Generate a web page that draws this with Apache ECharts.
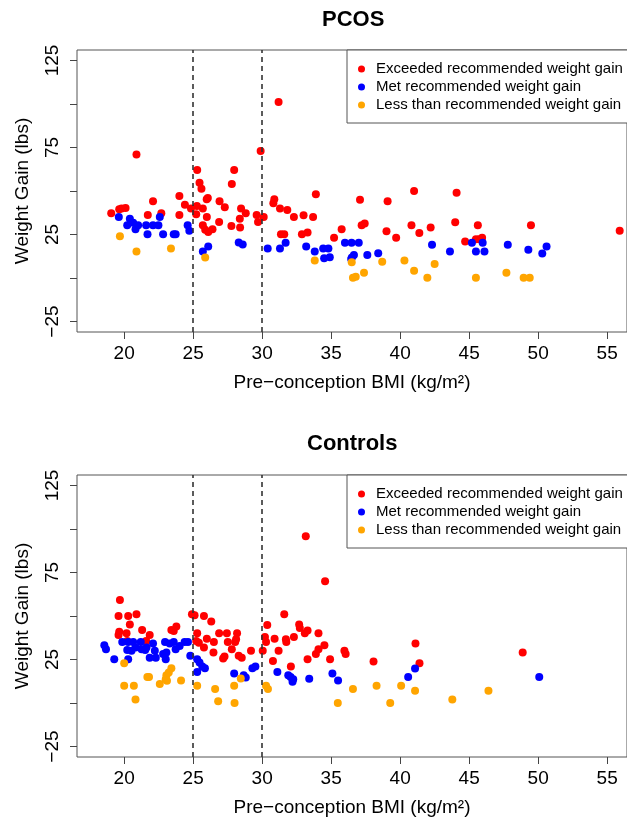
<!DOCTYPE html>
<html>
<head>
<meta charset="utf-8">
<script src="https://cdn.jsdelivr.net/npm/echarts@6/dist/echarts.min.js"></script>
<style>
  html, body { margin: 0; padding: 0; background: #fff; }
  #main_chart { width: 627px; height: 823px; }
</style>
</head>
<body>
<div id="main_chart"></div>
<script>
// 数据：[BMI, 体重增加]
var seriesNames = ['Exceeded recommended weight gain', 'Met recommended weight gain', 'Less than recommended weight gain'];
var seriesColors = ['#ff0000', '#0000ff', '#ffa500'];
var xTicks = [20, 25, 30, 35, 40, 45, 50, 55];
var yTicks = [-25, 0, 25, 50, 75, 100, 125];
var yLabels = [-25, 25, 75, 125];
var bmiCutoffs = [25, 30];

var pcosExceeded = [
    [20.89,70.9],[31.19,101.1],[29.89,73.0],[25.29,62.0],[27.97,62.0],[25.46,54.7],[25.6,51.3],[27.80,54.0],
    [33.89,48.1],[24.0,47.1],[22.09,44.1],[26.06,46.0],[25.98,45.2],[26.91,44.1],[24.40,42.1],[27.29,40.6],
    [25.27,41.4],[24.84,39.9],[25.70,39.9],[30.88,45.2],[30.81,42.9],[31.29,40.0],[31.82,39.1],[28.47,40.0],
    [28.81,37.2],[28.38,34.1],[27.77,29.9],[28.40,29.0],[19.06,37.2],[19.64,39.5],[19.81,39.9],[20.10,40.2],
    [21.71,36.2],[22.69,37.2],[24.0,36.2],[25.22,36.6],[25.99,35.1],[26.88,32.2],[25.70,30.3],[25.87,27.7],
    [26.09,26.5],[26.40,28.0],[29.60,36.2],[29.70,32.2],[30.11,35.1],[32.30,35.1],[33.0,36.0],[33.69,35.1],
    [31.36,25.2],[31.6,25.2],[32.88,25.2],[33.29,26.1],[35.21,23.1],[35.76,28.0],[37.09,45.0],[37.21,30.3],
    [37.43,31.3],[39.09,44.1],[39.01,26.9],[39.71,23.1],[41.01,50.0],[40.82,30.3],[41.39,25.9],[42.21,29.0],
    [44.09,49.0],[43.99,32.0],[44.71,21.0],[45.63,30.3],[45.49,22.3],[45.73,22.3],[45.94,23.1],[49.48,30.3],
    [55.91,27.1]
];
var pcosMet = [
    [19.61,35.1],[20.41,34.1],[20.22,30.3],[20.65,31.8],[21.01,30.3],[20.82,28.0],[21.59,30.3],[22.09,30.3],
    [22.48,30.3],[22.58,35.1],[21.69,25.2],[22.82,25.2],[23.59,25.2],[23.73,25.2],[24.60,30.3],[24.72,27.1],
    [25.70,15.3],[26.09,18.1],[28.30,20.4],[28.59,19.3],[30.40,17.0],[31.29,17.0],[31.70,20.2],[33.19,18.1],
    [33.81,15.3],[34.42,17.0],[34.80,17.0],[34.49,11.3],[34.90,12.0],[36.0,20.2],[36.48,20.2],[37.0,20.2],
    [36.5,11.8],[36.65,13.2],[36.45,10.9],[37.62,13.2],[38.41,14.3],[42.31,19.1],[43.61,15.3],[45.2,20.2],
    [45.98,20.2],[45.49,15.3],[46.11,15.3],[47.80,19.1],[49.29,16.2],[50.30,14.1],[50.61,18.1]
];
var pcosLess = [
    [19.69,24.0],[20.89,15.3],[23.39,17.0],[25.87,11.8],[33.81,10.1],[36.49,9.0],[36.58,0.2],[36.78,0.8],
    [37.38,3.1],[38.70,9.3],[40.31,10.1],[41.01,4.2],[41.97,0.2],[42.50,8.0],[45.49,0.2],[47.70,3.1],
    [48.95,0.2],[49.39,0.2]
];

var ctrlExceeded = [
    [19.69,59.2],[19.59,50.0],[19.64,40.9],[19.59,39.1],[20.29,50.0],[20.89,51.0],[20.41,45.1],[21.30,42.0],
    [20.17,40.1],[20.22,35.7],[21.85,39.1],[21.59,35.7],[23.42,42.0],[23.78,43.9],[23.59,41.4],[24.91,51.0],
    [25.10,50.4],[25.78,50.0],[26.31,46.8],[25.29,40.1],[25.99,37.0],[25.22,35.7],[25.41,34.7],[25.78,31.9],
    [26.50,35.1],[26.47,29.0],[26.88,40.1],[27.44,40.1],[28.18,40.1],[27.51,35.1],[28.04,35.1],[28.11,36.7],
    [27.80,30.9],[27.27,26.7],[27.17,25.6],[28.30,27.1],[28.52,26.0],[29.19,30.0],[30.04,30.0],[30.37,44.9],
    [30.20,38.0],[30.28,35.1],[30.90,37.0],[31.19,30.0],[30.78,24.1],[31.60,51.0],[31.72,36.7],[31.75,35.1],
    [32.30,38.0],[32.08,21.0],[32.68,45.1],[32.73,43.1],[33.09,40.1],[33.29,41.6],[33.16,95.8],[33.29,25.2],
    [34.08,40.1],[33.89,28.1],[34.08,30.9],[34.51,33.2],[34.56,69.9],[34.92,25.2],[35.96,30.0],[36.05,28.1],
    [38.07,23.9],[41.11,34.2],[41.40,22.9],[48.88,29.0]
];
var ctrlMet = [
    [18.56,33.2],[18.68,30.9],[19.28,25.2],[19.86,35.1],[20.29,35.1],[20.65,35.1],[21.20,35.1],[20.22,30.4],
    [20.53,30.0],[20.82,31.9],[21.26,30.9],[21.52,30.4],[21.62,31.9],[20.29,25.2],[22.09,34.2],[21.85,26.0],
    [22.29,26.0],[22.22,30.0],[22.82,28.1],[23.06,29.0],[23.01,25.2],[22.96,35.1],[23.30,34.2],[23.59,35.1],
    [23.73,30.9],[24.02,32.8],[24.38,35.1],[24.62,35.1],[24.79,27.1],[25.29,25.2],[25.46,23.3],[25.66,21.0],
    [25.85,20.0],[25.29,17.9],[27.97,17.0],[28.66,16.0],[28.81,14.7],[29.29,20.0],[29.51,21.0],[31.10,17.9],
    [31.89,16.0],[32.06,14.9],[32.25,13.7],[32.20,12.2],[33.41,13.9],[35.09,17.0],[35.50,13.0],[40.58,14.9],
    [41.08,19.9],[50.08,14.9]
];
var ctrlLess = [
    [20.0,22.9],[20.0,9.9],[20.70,9.9],[20.82,2.1],[21.68,14.9],[21.80,14.9],[22.58,10.9],[23.06,16.0],
    [23.01,13.7],[23.23,17.6],[23.42,20.0],[23.1,12.8],[24.12,13.0],[25.29,9.9],[26.59,8.0],[26.81,1.0],
    [27.97,9.9],[28.0,0.0],[28.45,14.1],[30.28,9.9],[30.42,8.0],[35.48,0.0],[36.58,8.0],[38.29,9.9],
    [39.28,0.0],[40.07,9.9],[41.08,7.1],[43.78,2.1],[46.40,7.1]
];

var panels = [
    { title: 'PCOS', top: 50, titleLeft: 322, titleTop: 9, data: [pcosExceeded, pcosMet, pcosLess] },
    { title: 'Controls', top: 475, titleLeft: 307, titleTop: 433, data: [ctrlExceeded, ctrlMet, ctrlLess] }
];

var font = 'Liberation Sans, Arial, Helvetica, sans-serif';
const myChart = echarts.init(document.getElementById('main_chart'));

var option = {
    animation: false,
    backgroundColor: '#fff',
    title: [],
    legend: [],
    grid: [],
    xAxis: [],
    yAxis: [],
    series: []
};

panels.forEach(function (p, i) {
    option.title.push({
        text: p.title, left: p.titleLeft, top: p.titleTop, padding: 0,
        textStyle: { fontFamily: font, fontSize: 22, fontWeight: 'bold', color: '#000' }
    });
    option.grid.push({
        left: 77, right: -2, top: p.top, height: 282,
        show: true, borderColor: '#555', borderWidth: 1, backgroundColor: 'transparent'
    });
    option.legend.push({
        data: seriesNames,
        orient: 'vertical', left: 347, top: p.top,
        padding: [10, 20, 9, 11],
        itemGap: 0, itemWidth: 7, itemHeight: 7, icon: 'circle',
        borderColor: '#555', borderWidth: 1, backgroundColor: '#fff',
        selectedMode: false,
        textStyle: { fontFamily: font, fontSize: 15, color: '#000', lineHeight: 18, padding: [0, 0, 0, 6] }
    });
    option.xAxis.push({
        type: 'value', gridIndex: i, min: 16.58, max: 56.44,
        name: 'Pre\u2212conception BMI (kg/m\u00b2)', nameLocation: 'middle', nameGap: 41,
        nameTextStyle: { fontFamily: font, fontSize: 19, color: '#000' },
        axisLine: { show: false, onZero: false },
        splitLine: { show: false },
        axisTick: { show: true, length: 7, customValues: xTicks, lineStyle: { color: '#444' } },
        axisLabel: { customValues: xTicks, margin: 12, fontFamily: font, fontSize: 19, color: '#000' }
    });
    option.yAxis.push({
        type: 'value', gridIndex: i, min: -31, max: 131,
        name: 'Weight Gain (lbs)', nameLocation: 'middle', nameGap: 45,
        nameTextStyle: { fontFamily: font, fontSize: 19, color: '#000' },
        axisLine: { show: false, onZero: false },
        splitLine: { show: false },
        axisTick: { show: true, length: 7, customValues: yTicks, lineStyle: { color: '#444' } },
        axisLabel: {
            customValues: yLabels, rotate: 90, margin: 15,
            fontFamily: font, fontSize: 19, color: '#000',
            formatter: function (v) { return String(v).replace('-', '\u2212'); }
        }
    });
    p.data.forEach(function (d, k) {
        var s = {
            name: seriesNames[k], type: 'scatter',
            xAxisIndex: i, yAxisIndex: i,
            data: d, symbol: 'circle', symbolSize: 8,
            itemStyle: { color: seriesColors[k], opacity: 1 }
        };
        if (k === 0) {
            s.markLine = {
                silent: true, symbol: ['none', 'none'], label: { show: false },
                lineStyle: { type: [5, 4], color: '#333', width: 1.6 },
                data: bmiCutoffs.map(function (c) { return { xAxis: c }; })
            };
        }
        option.series.push(s);
    });
});

myChart.setOption(option);
window.onresize = function() {
    myChart.resize();
};
</script>
</body>
</html>
